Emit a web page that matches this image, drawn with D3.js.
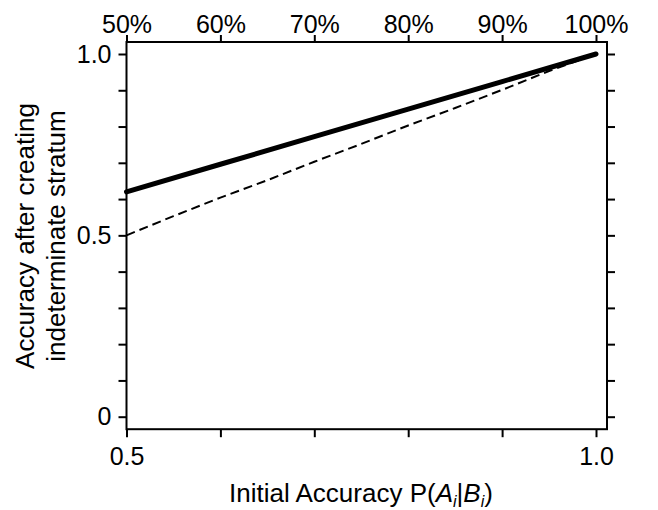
<!DOCTYPE html>
<html>
<head>
<meta charset="utf-8">
<script src="https://cdn.jsdelivr.net/npm/d3@7"></script>
<style>
  html, body { margin: 0; padding: 0; background: #fff; }
  svg { display: block; font-family: 'Liberation Sans', Arial, Helvetica, sans-serif; }
</style>
</head>
<body>
<svg width="658" height="510" viewBox="0 0 658 510"></svg>
<script>
// input data
// initial accuracy P(Ai|Bi) for the solid line
const solidX = [0.5, 0.6, 0.7, 0.8, 0.9, 1.0];
// accuracy after creating the indeterminate stratum
const solidY = [0.62, 0.696, 0.772, 0.848, 0.924, 1.0];
// dashed reference line
const dashX = [0.5, 0.55, 0.6, 0.65, 0.7, 0.75, 0.8, 0.85, 0.9, 0.95, 1.0];
const dashY = [0.5, 0.553, 0.604, 0.652, 0.703, 0.752, 0.803, 0.851, 0.901, 0.953, 1.0];

// tick values and labels
const xTicks = [0.5, 0.6, 0.7, 0.8, 0.9, 1.0];
const xTickLabels = ['0.5', '', '', '', '', '1.0'];
const topTickLabels = ['50%', '60%', '70%', '80%', '90%', '100%'];
const yTicks = [0, 0.1, 0.2, 0.3, 0.4, 0.5, 0.6, 0.7, 0.8, 0.9, 1.0];
const yTickLabels = ['0', '', '', '', '', '0.5', '', '', '', '', '1.0'];

const svg = d3.select('svg');

// scales, the box extends a little beyond the data range on the right, top and bottom
const x = d3.scaleLinear().domain([0.5, 1]).range([126.5, 596]);
const y = d3.scaleLinear().domain([0, 1]).range([416.7, 54]);

const box = {
  left: x(0.5),
  right: x(1) + 11,
  top: y(1) - 12,
  bottom: y(0) + 12.5,
};

const tickStroke = 2;

// frame
svg
  .append('rect')
  .attr('x', box.left)
  .attr('y', box.top)
  .attr('width', box.right - box.left)
  .attr('height', box.bottom - box.top)
  .attr('fill', 'none')
  .attr('stroke', '#000')
  .attr('stroke-width', tickStroke);

// helper to style an axis group
function styleAxis(g, size) {
  g.select('.domain').remove();
  g.selectAll('.tick line').attr('stroke', '#000').attr('stroke-width', tickStroke);
  g.selectAll('.tick text')
    .attr('fill', '#000')
    .attr('font-size', size)
    .attr('font-family', "'Liberation Sans', Arial, sans-serif");
}

// left axis
svg
  .append('g')
  .attr('transform', `translate(${box.left} 0)`)
  .call(
    d3.axisLeft(y)
      .tickValues(yTicks)
      .tickSize(8)
      .tickPadding(7)
      .tickFormat((d, i) => yTickLabels[i])
  )
  .call(g => styleAxis(g, 25));

// right axis, ticks only
svg
  .append('g')
  .attr('transform', `translate(${box.right} 0)`)
  .call(d3.axisRight(y).tickValues(yTicks).tickSize(8).tickFormat(''))
  .call(g => styleAxis(g, 25));

// bottom axis
svg
  .append('g')
  .attr('transform', `translate(0 ${box.bottom})`)
  .call(
    d3.axisBottom(x)
      .tickValues(xTicks)
      .tickSize(8)
      .tickPadding(10)
      .tickFormat((d, i) => xTickLabels[i])
  )
  .call(g => styleAxis(g, 25));

// top axis with percentages
svg
  .append('g')
  .attr('transform', `translate(0 ${box.top})`)
  .call(
    d3.axisTop(x)
      .tickValues(xTicks)
      .tickSize(7)
      .tickPadding(2)
      .tickFormat((d, i) => topTickLabels[i])
  )
  .call(g => styleAxis(g, 25));

// lines
const line = d3
  .line()
  .x(d => x(d[0]))
  .y(d => y(d[1]));

svg
  .append('path')
  .datum(dashX.map((v, i) => [v, dashY[i]]))
  .attr('d', line)
  .attr('fill', 'none')
  .attr('stroke', '#000')
  .attr('stroke-width', 2)
  .attr('stroke-dasharray', '9 5');

svg
  .append('path')
  .datum(solidX.map((v, i) => [v, solidY[i]]))
  .attr('d', line)
  .attr('fill', 'none')
  .attr('stroke', '#000')
  .attr('stroke-width', 5)
  .attr('stroke-linecap', 'round');

// x axis title with italic symbols and subscripts
const xTitle = svg
  .append('text')
  .attr('x', 361)
  .attr('y', 502)
  .attr('text-anchor', 'middle')
  .attr('font-size', 26)
  .attr('fill', '#000');
xTitle.append('tspan').text('Initial Accuracy P(');
xTitle.append('tspan').attr('font-style', 'italic').text('A');
xTitle.append('tspan').attr('font-style', 'italic').attr('font-size', 16).attr('dy', 5).text('i');
xTitle.append('tspan').attr('dy', -5).text('|');
xTitle.append('tspan').attr('font-style', 'italic').text('B');
xTitle.append('tspan').attr('font-style', 'italic').attr('font-size', 16).attr('dy', 5).text('i');
xTitle.append('tspan').attr('dy', -5).text(')');

// y axis title on two lines
const yTitle = svg
  .append('text')
  .attr('transform', 'translate(34 236) rotate(-90)')
  .attr('text-anchor', 'middle')
  .attr('font-size', 26)
  .attr('fill', '#000');
yTitle.append('tspan').attr('x', 0).attr('dy', 0).text('Accuracy after creating');
yTitle.append('tspan').attr('x', 0).attr('dy', 31).text('indeterminate stratum');
</script>
</body>
</html>
